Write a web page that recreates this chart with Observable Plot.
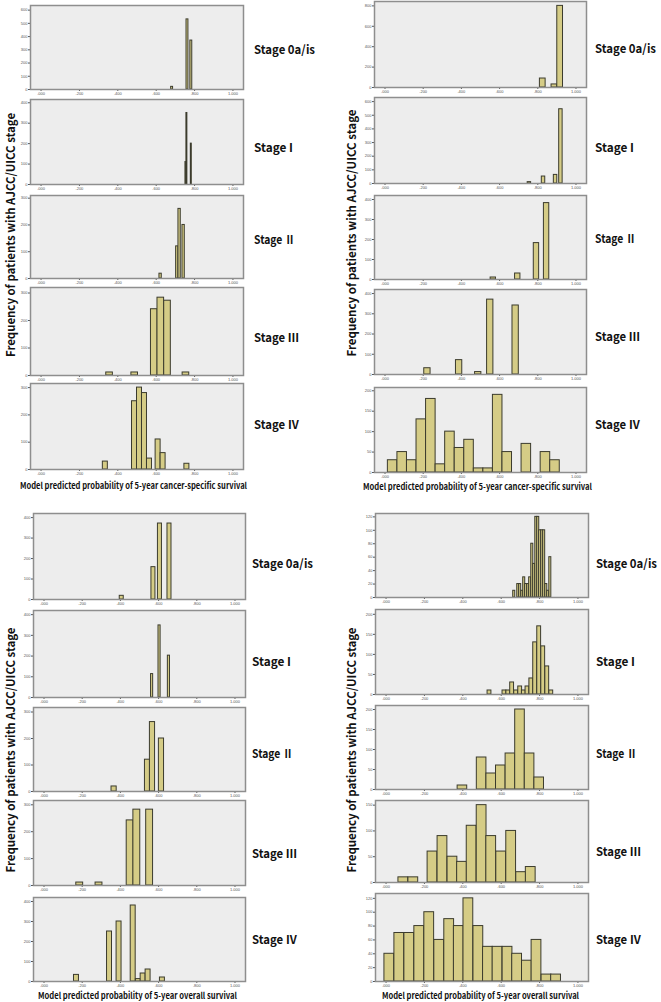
<!DOCTYPE html>
<html><head><meta charset="utf-8">
<script src="https://cdn.jsdelivr.net/npm/d3@7"></script>
<script src="https://cdn.jsdelivr.net/npm/@observablehq/plot@0.6"></script>
<style>
html,body{margin:0;padding:0;background:#fff;}
#root{position:relative;width:661px;height:1002px;overflow:hidden;background:#fff;}
.panel{position:absolute;}
#overlay{position:absolute;left:0;top:0;pointer-events:none;}
</style></head><body><div id="root"></div>
<script>
// ---------- DATA ----------
const stageNames = ["Stage 0a/is", "Stage I", "Stage Ⅱ", "Stage Ⅲ", "Stage Ⅳ"];
const yTitle = "Frequency of patients with AJCC/UICC stage";
const xTitleCss = "Model predicted probability of 5-year cancer-specific survival";
const xTitleOs = "Model predicted probability of 5-year overall survival";
const xTickValues = [0, 0.2, 0.4, 0.6, 0.8, 1.0];

// [bin centre, frequency] — cancer-specific survival, left column
const cssA_0 = [[0.683,20],[0.763,530],[0.783,370]];
const cssA_1 = [[0.755,110],[0.760,350],[0.783,200]];
const cssA_2 = [[0.623,18],[0.710,120],[0.722,260],[0.743,200]];
const cssA_3 = [[0.357,11],[0.488,11],[0.590,241],[0.624,283],[0.659,272],[0.755,11]];
const cssA_4 = [[0.335,29],[0.487,250],[0.513,300],[0.539,280],[0.565,40],[0.610,110],[0.636,60],[0.760,21]];
const cssA_binWidth = [0.010, 0.005, 0.012, 0.0345, 0.026];
const cssA_yMax = [635, 416, 310, 320, 315];
const cssA_yTicks = [[0,100,200,300,400,500,600],[0,100,200,300,400],[0,100,200,300],[0,100,200,300],[0,100,200,300]];

// cancer-specific survival, right column
const cssB_0 = [[0.826,88],[0.887,30],[0.917,800]];
const cssB_1 = [[0.756,10],[0.830,51],[0.893,63],[0.921,544]];
const cssB_2 = [[0.567,10],[0.695,30],[0.793,182],[0.846,382]];
const cssB_3 = [[0.222,31],[0.388,71],[0.488,12],[0.551,370],[0.684,341]];
const cssB_4 = [[0.04,30],[0.09,50],[0.14,30],[0.19,130],[0.24,180],[0.29,20],[0.34,100],[0.39,60],[0.44,80],[0.49,10],[0.54,10],[0.59,190],[0.64,50],[0.74,70],[0.84,50],[0.89,30]];
const cssB_binWidth = [0.03, 0.018, 0.028, 0.033, 0.05];
const cssB_yMax = [843, 630, 420, 420, 208];
const cssB_yTicks = [[0,200,400,600,800],[0,100,200,300,400,500,600],[0,100,200,300,400],[0,100,200,300,400],[0,50,100,150,200]];

// overall survival, left column
const osA_0 = [[0.407,18],[0.573,158],[0.607,371],[0.657,371]];
const osA_1 = [[0.566,113],[0.605,348],[0.654,202]];
const osA_2 = [[0.367,19],[0.542,120],[0.568,262],[0.615,200]];
const osA_3 = [[0.187,11],[0.288,11],[0.451,242],[0.486,282],[0.553,282]];
const osA_4 = [[0.170,33],[0.343,250],[0.393,300],[0.467,380],[0.494,12],[0.519,40],[0.545,60],[0.620,20]];
const osA_binWidth = [0.021, 0.011, 0.027, 0.036, 0.026];
const osA_yMax = [420, 420, 317, 316, 420];
const osA_yTicks = [[0,100,200,300,400],[0,100,200,300,400],[0,100,200,300],[0,100,200,300],[0,100,200,300,400]];

// overall survival, right column
const osB_0 = [[0.668,10],[0.689,20],[0.699,20],[0.710,10],[0.720,30],[0.730,20],[0.741,20],[0.751,30],[0.762,80],[0.772,50],[0.783,120],[0.793,120],[0.803,100],[0.814,100],[0.824,100],[0.835,20],[0.845,10],[0.856,60]];
const osB_1 = [[0.539,10],[0.617,10],[0.637,10],[0.657,30],[0.678,10],[0.699,20],[0.718,10],[0.737,20],[0.757,40],[0.777,130],[0.798,170],[0.819,120],[0.840,70],[0.861,10]];
const osB_2 = [[0.398,10],[0.498,80],[0.548,40],[0.598,60],[0.648,90],[0.698,200],[0.748,90],[0.798,30]];
const osB_3 = [[0.090,10],[0.142,10],[0.242,60],[0.294,90],[0.346,50],[0.396,40],[0.446,110],[0.498,150],[0.548,90],[0.600,60],[0.652,100],[0.704,20],[0.754,30]];
const osB_4 = [[0.017,40],[0.069,70],[0.121,70],[0.173,80],[0.225,100],[0.277,60],[0.329,90],[0.379,80],[0.429,120],[0.481,80],[0.531,50],[0.581,50],[0.633,50],[0.683,40],[0.734,30],[0.784,60],[0.836,10],[0.886,10]];
const osB_binWidth = [0.0105, 0.02, 0.05, 0.051, 0.051];
const osB_yMax = [125, 212, 210, 159, 127];
const osB_yTicks = [[0,20,40,60,80,100,120],[0,50,100,150,200],[0,50,100,150,200],[0,50,100,150],[0,20,40,60,80,100,120]];

// ---------- LAYOUT ----------
const quadrants = [
  {series:[cssA_0,cssA_1,cssA_2,cssA_3,cssA_4], bw:cssA_binWidth, yMax:cssA_yMax, yTicks:cssA_yTicks, xTitle:xTitleCss,
   left:30, right:243, tops:[5,99,195,287,383], bottoms:[89,184,278,375,469], labelX:254, labelY:[48,146,238,336,423],
   yt:{x:9,y:235,len:244}, xt:{x:133.5,y:485,len:227}},
  {series:[cssB_0,cssB_1,cssB_2,cssB_3,cssB_4], bw:cssB_binWidth, yMax:cssB_yMax, yTicks:cssB_yTicks, xTitle:xTitleCss,
   left:374, right:586, tops:[1,97,195,289,387], bottoms:[87,183,279,374,472], labelX:595, labelY:[47,146,237,335,423],
   yt:{x:350,y:233,len:247}, xt:{x:477.5,y:486,len:229}},
  {series:[osA_0,osA_1,osA_2,osA_3,osA_4], bw:osA_binWidth, yMax:osA_yMax, yTicks:osA_yTicks, xTitle:xTitleOs,
   left:33, right:245, tops:[513,610,707,800,897], bottoms:[599,697,791,885,981], labelX:252, labelY:[562,660,752,852,938],
   yt:{x:9,y:750,len:245}, xt:{x:137.5,y:995,len:199}},
  {series:[osB_0,osB_1,osB_2,osB_3,osB_4], bw:osB_binWidth, yMax:osB_yMax, yTicks:osB_yTicks, xTitle:xTitleOs,
   left:375, right:588, tops:[513,609,705,800,893], bottoms:[597,694,789,882,981], labelX:596, labelY:[562,660,752,850,938],
   yt:{x:350,y:750,len:245}, xt:{x:480.5,y:995,len:197}}
];
const stageLen = [61, 39, 41, 45, 45];

const ML = 20, MR = 2, MT = 2, MB = 9;
const xFmt = d => d === 1 ? "1.000" : d3.format(".3f")(d).replace(/^0/, "");
const root = d3.select("#root");

quadrants.forEach(q => {
  q.series.forEach((data, i) => {
    const w = q.right - q.left, h = q.bottoms[i] - q.tops[i];
    const bw = q.bw[i];
    const chart = Plot.plot({
      width: w + ML + MR, height: h + MT + MB,
      marginLeft: ML, marginRight: MR, marginTop: MT, marginBottom: MB,
      style: {background: "transparent", fontSize: "4px", fontFamily: "Liberation Sans, sans-serif", color: "#555"},
      x: {domain: [-0.055, 1.055], ticks: xTickValues, tickFormat: xFmt, tickSize: 2, tickPadding: 0.5, label: null},
      y: {domain: [0, q.yMax[i]], ticks: q.yTicks[i], tickFormat: d => String(d), tickSize: 2, tickPadding: 1, label: null},
      marks: [
        Plot.frame({fill: "#ededed", stroke: "none"}),
        Plot.rectY(data, {x1: d => d[0] - bw / 2, x2: d => d[0] + bw / 2, y1: 0, y2: d => d[1],
          fill: "#d5cc86", stroke: "#3b3b2d", strokeWidth: 1}),
        Plot.frame({stroke: "#8e8e8e", strokeWidth: 1.5})
      ]
    });
    const div = root.append("div").attr("class", "panel")
      .style("left", (q.left - ML) + "px").style("top", (q.tops[i] - MT) + "px");
    div.node().appendChild(chart);
  });
});

// ---------- TEXT OVERLAY ----------
const svg = root.append("svg").attr("id", "overlay").attr("width", 661).attr("height", 1002)
  .style("font-family", "'Noto Sans CJK KR', 'Noto Sans', sans-serif").style("font-weight", "bold").style("fill", "#111");
quadrants.forEach(q => {
  stageNames.forEach((s, i) => {
    svg.append("text").attr("x", q.labelX).attr("y", q.labelY[i]).attr("dominant-baseline", "central")
      .attr("font-size", 12).attr("textLength", stageLen[i]).attr("lengthAdjust", "spacingAndGlyphs").text(s);
  });
  svg.append("text").attr("transform", `translate(${q.yt.x},${q.yt.y}) rotate(-90)`)
    .attr("text-anchor", "middle").attr("dominant-baseline", "central").attr("font-size", 12)
    .attr("textLength", q.yt.len).attr("lengthAdjust", "spacingAndGlyphs").text(yTitle);
  svg.append("text").attr("x", q.xt.x).attr("y", q.xt.y).attr("text-anchor", "middle").attr("dominant-baseline", "central")
    .attr("font-size", 9).attr("textLength", q.xt.len).attr("lengthAdjust", "spacingAndGlyphs").text(q.xTitle);
});
</script></body></html>
